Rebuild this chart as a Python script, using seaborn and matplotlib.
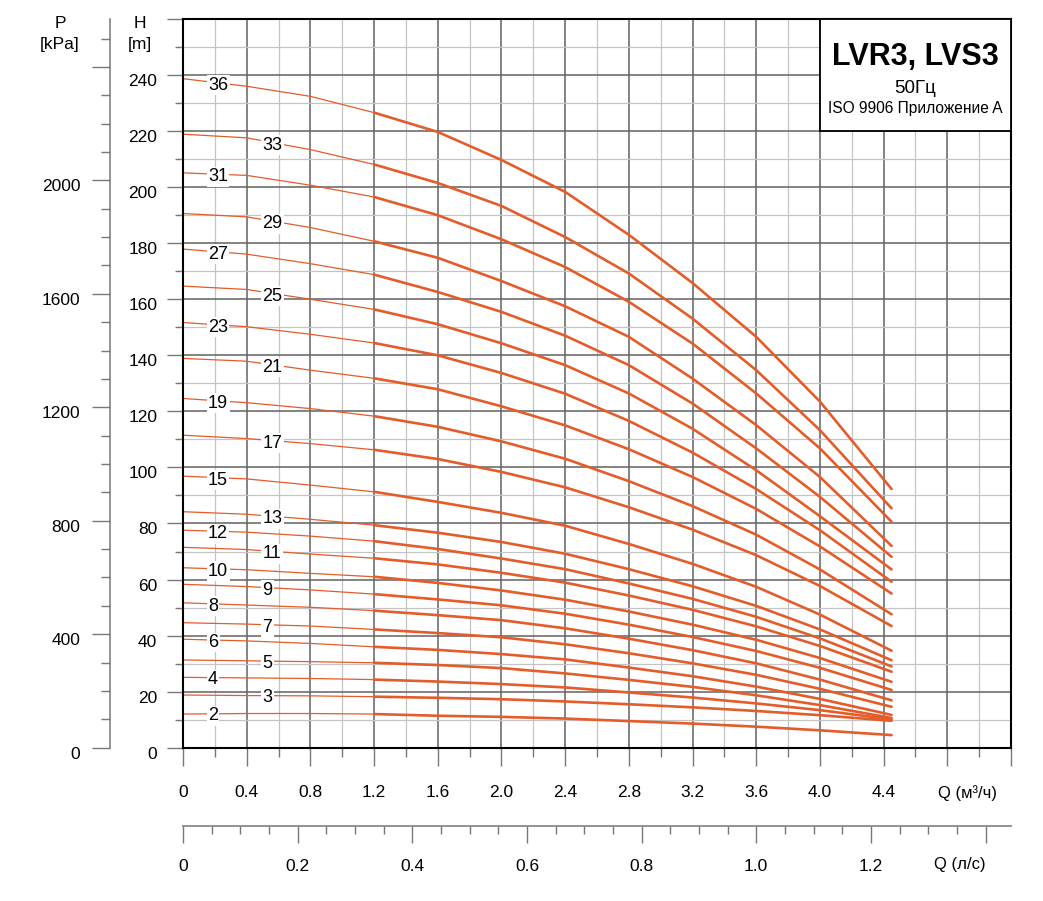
import numpy as np
import pandas as pd
import matplotlib
matplotlib.use("Agg")
import matplotlib.pyplot as plt
import matplotlib.transforms as mtransforms
from matplotlib.patches import Rectangle
from matplotlib.ticker import MultipleLocator, FuncFormatter
import seaborn as sns

# Caudal (m3/h) en los puntos leidos
q = [0, 0.4, 0.8, 1.2, 1.6, 2.0, 2.4, 2.8, 3.2, 3.6, 4.0, 4.45]

# Altura H (m) por numero de etapas
h36 = [238.7, 236.0, 232.4, 226.6, 219.7, 209.7, 198.3, 183.0, 165.8, 146.6, 123.5, 92.3]
h33 = [218.9, 217.6, 213.4, 208.1, 201.5, 193.3, 182.2, 169.2, 153.1, 134.7, 113.3, 85.4]
h31 = [205.1, 204.2, 200.7, 196.5, 190.0, 181.4, 171.5, 159.1, 144.2, 126.4, 106.8, 80.6]
h29 = [190.6, 189.4, 185.6, 180.7, 174.8, 166.5, 157.5, 146.6, 131.7, 115.1, 96.6, 72.0]
h27 = [177.9, 176.1, 172.7, 168.8, 162.6, 155.5, 147.0, 136.5, 122.8, 106.8, 89.5, 68.1]
h25 = [164.7, 163.5, 160.0, 156.4, 151.1, 144.3, 136.5, 126.4, 113.8, 99.0, 82.6, 63.6]
h23 = [151.7, 150.2, 147.5, 144.4, 140.0, 133.7, 126.3, 116.6, 105.3, 92.3, 77.6, 59.2]
h21 = [138.9, 137.9, 134.7, 131.8, 127.9, 121.8, 115.0, 106.5, 96.6, 85.2, 71.8, 55.0]
h19 = [124.6, 123.1, 121.0, 118.3, 114.5, 109.3, 103.1, 95.1, 86.2, 76.0, 63.6, 47.6]
h17 = [111.5, 110.3, 108.5, 106.3, 103.0, 98.4, 92.9, 85.8, 77.8, 68.7, 57.7, 43.4]
h15 = [96.9, 95.9, 93.7, 91.3, 87.7, 83.8, 79.2, 72.7, 65.6, 57.4, 47.5, 34.6]
h13 = [84.2, 83.3, 81.5, 79.4, 76.7, 73.4, 69.2, 63.7, 57.6, 50.6, 42.2, 31.2]
h12 = [77.6, 76.9, 75.5, 73.7, 70.9, 67.5, 63.7, 58.6, 53.1, 46.7, 39.0, 29.0]
h11 = [71.5, 70.7, 69.1, 67.6, 65.4, 62.4, 58.9, 54.3, 49.2, 43.3, 36.3, 27.1]
h10 = [64.2, 63.5, 62.2, 61.0, 58.8, 56.1, 52.8, 48.6, 43.9, 38.5, 32.0, 23.5]
h9 = [58.3, 57.5, 56.3, 54.8, 52.9, 50.8, 47.8, 43.9, 39.5, 34.5, 28.5, 20.6]
h8 = [51.7, 50.9, 50.1, 48.9, 47.3, 45.5, 42.6, 38.9, 34.8, 30.1, 24.3, 16.9]
h7 = [44.6, 44.1, 43.4, 42.2, 40.9, 39.4, 36.9, 33.7, 30.1, 26.0, 21.0, 14.6]
h6 = [38.7, 38.1, 37.2, 36.0, 34.9, 33.4, 31.5, 28.6, 25.5, 21.8, 17.4, 11.7]
h5 = [31.3, 31.0, 30.7, 30.3, 29.5, 28.4, 26.5, 24.2, 21.7, 18.7, 15.2, 10.6]
h4 = [25.1, 24.9, 24.7, 24.3, 23.6, 22.7, 21.5, 19.7, 17.9, 15.8, 13.4, 10.1]
h3 = [18.8, 18.6, 18.5, 18.2, 17.8, 17.3, 16.5, 15.5, 14.4, 13.1, 11.6, 9.6]
h2 = [12.0, 12.2, 12.2, 12.0, 11.4, 11.0, 10.4, 9.5, 8.6, 7.5, 6.2, 4.5]

curvas = {36: h36, 33: h33, 31: h31, 29: h29, 27: h27, 25: h25, 23: h23,
          21: h21, 19: h19, 17: h17, 15: h15, 13: h13, 12: h12, 11: h11,
          10: h10, 9: h9, 8: h8, 7: h7, 6: h6, 5: h5, 4: h4, 3: h3, 2: h2}

# etiquetas en la columna izquierda / derecha
etapas_izq = [36, 31, 27, 23, 19, 15, 12, 10, 8, 6, 4, 2]
etapas_der = [33, 29, 25, 21, 17, 13, 11, 9, 7, 5, 3]

x_labels = ["0", "0.4", "0.8", "1.2", "1.6", "2.0", "2.4", "2.8", "3.2", "3.6", "4.0", "4.4"]
ls_labels = ["0", "0.2", "0.4", "0.6", "0.8", "1.0", "1.2"]
p_labels = ["0", "400", "800", "1200", "1600", "2000"]

titulo = "LVR3, LVS3"
subtitulo1 = "50Гц"
subtitulo2 = "ISO 9906 Приложение A"


def etiqueta(lista, paso):
    # devuelve el texto de la lista segun el valor del tick (vacio fuera de ella)
    def f(v, pos):
        i = int(round(v / paso))
        if abs(v - i * paso) > 1e-6 or i < 0 or i >= len(lista):
            return ""
        return lista[i]
    return FuncFormatter(f)


# ===============================
# Estilo
# ===============================
sns.set_style("white")
plt.rcParams["font.family"] = ["Liberation Sans", "DejaVu Sans"]
plt.rcParams["text.color"] = "black"
plt.rcParams["xtick.labelcolor"] = "black"
plt.rcParams["ytick.labelcolor"] = "black"
color_curva = "#e35c2a"
gris = "#777777"

W, HP = 1043, 901
fig = plt.figure(figsize=(W / 100, HP / 100), dpi=100)
fig.patch.set_facecolor("white")

x0, x1 = 183, 1011
y_top, y_bot = 19, 747.7
ax = fig.add_axes([x0 / W, 1 - y_bot / HP, (x1 - x0) / W, (y_bot - y_top) / HP])
ax.set_xlim(0, 5.2)
ax.set_ylim(0, 260)

# rejilla
ax.xaxis.set_major_locator(MultipleLocator(0.4))
ax.xaxis.set_minor_locator(MultipleLocator(0.2))
ax.yaxis.set_major_locator(MultipleLocator(20))
ax.yaxis.set_minor_locator(MultipleLocator(10))
ax.grid(which="major", color="#626262", lw=1.1, zorder=0)
ax.grid(which="minor", color="#c4c4c4", lw=0.9, zorder=0)
ax.set_axisbelow(True)

ax.xaxis.set_major_formatter(etiqueta(x_labels, 0.4))
ax.yaxis.set_major_formatter(FuncFormatter(lambda v, p: "" if v > 250 else f"{v:.0f}"))

ax.tick_params(which="both", bottom=True, left=True, top=False, right=False)
ax.tick_params(axis="x", which="major", length=13, width=1.0, color=gris,
               direction="out", labelsize=12.5, pad=14, labelcolor="black")
ax.tick_params(axis="x", which="minor", length=6.5, width=1.0, color=gris, direction="out")
ax.tick_params(axis="y", which="major", length=11.5, width=1.0, color=gris,
               direction="out", labelsize=12.5, pad=7, labelcolor="black")
ax.tick_params(axis="y", which="minor", length=5.8, width=1.0, color=gris, direction="out")
for s in ax.spines.values():
    s.set_color("black")
    s.set_linewidth(1.5)

off = mtransforms.ScaledTranslation(0, -5 / 100, fig.dpi_scale_trans)
for lab in ax.get_yticklabels():
    lab.set_transform(lab.get_transform() + off)

# ===============================
# Curvas
# ===============================
filas = []
for n, h in curvas.items():
    for qi, hi in zip(q, h):
        filas.append({"etapas": n, "Q": qi, "H": hi})
df = pd.DataFrame(filas)

tramo_fino = df[df["Q"] <= 1.2]
tramo_grueso = df[df["Q"] >= 1.2]
pal = [color_curva] * len(curvas)

sns.lineplot(data=tramo_fino, x="Q", y="H", hue="etapas", units="etapas",
             estimator=None, palette=pal, lw=0.9, legend=False, ax=ax, zorder=2)
sns.lineplot(data=tramo_grueso, x="Q", y="H", hue="etapas", units="etapas",
             estimator=None, palette=pal, lw=1.9, legend=False, ax=ax, zorder=2)
ax.set_xlabel("")
ax.set_ylabel("")

# etiquetas de etapas
for n in etapas_izq + etapas_der:
    qx = 0.157 if n in etapas_izq else 0.50
    yc = np.interp(qx + 0.08, q, curvas[n]) - 0.8
    ax.text(qx, yc, str(n), ha="left", va="center", fontsize=13, zorder=4,
            bbox=dict(boxstyle="square,pad=0.08", fc="white", ec="none"))

# recuadro del titulo
ax.add_patch(Rectangle((4.0, 220), 1.2, 40, facecolor="white", edgecolor="black",
                       lw=1.3, zorder=3, clip_on=False))
ax.text(4.6, 246.3, titulo, ha="center", va="center", fontsize=22,
        fontweight="bold", zorder=4)
ax.text(4.6, 235.3, subtitulo1, ha="center", va="center", fontsize=13.5, zorder=4)
ax.text(4.6, 228.1, subtitulo2, ha="center", va="center", fontsize=11.2, zorder=4)

# ===============================
# Eje de presion (kPa)
# ===============================
pax = fig.add_axes([110 / W, 1 - y_bot / HP, 0.0001, (y_bot - y_top) / HP])
pax.set_ylim(0, 260 * 9.88)
pax.patch.set_visible(False)
for k in ["right", "top", "bottom"]:
    pax.spines[k].set_visible(False)
pax.spines["left"].set_color(gris)
pax.spines["left"].set_linewidth(1.1)
pax.set_xticks([])
pax.yaxis.set_major_locator(MultipleLocator(400))
pax.yaxis.set_minor_locator(MultipleLocator(100))
pax.yaxis.set_major_formatter(etiqueta(p_labels, 400))
pax.tick_params(which="both", left=True, bottom=False)
pax.tick_params(axis="y", which="major", length=13, width=1.0, color=gris,
                labelsize=12.5, pad=8.5, labelcolor="black")
pax.tick_params(axis="y", which="minor", length=6.5, width=1.0, color=gris)
for lab in pax.get_yticklabels():
    lab.set_transform(lab.get_transform() + off)

# ===============================
# Eje secundario de caudal (l/s)
# ===============================
y_ls = 826
qax = fig.add_axes([x0 / W, 1 - y_ls / HP, (x1 - x0) / W, 0.0001])
qax.set_xlim(0, 5.2 / 3.6)
qax.patch.set_visible(False)
for k in ["left", "right", "top"]:
    qax.spines[k].set_visible(False)
qax.spines["bottom"].set_color("#8a8a8a")
qax.spines["bottom"].set_linewidth(1.3)
qax.set_yticks([])
qax.xaxis.set_major_locator(MultipleLocator(0.2))
qax.xaxis.set_minor_locator(MultipleLocator(0.05))
qax.xaxis.set_major_formatter(etiqueta(ls_labels, 0.2))
qax.tick_params(which="both", bottom=True, left=False)
qax.tick_params(axis="x", which="major", length=12, width=1.0, color=gris,
                labelsize=12.5, pad=12, labelcolor="black")
qax.tick_params(axis="x", which="minor", length=6, width=1.0, color=gris)

# ===============================
# Textos de ejes
# ===============================
fig.text(60 / W, 1 - 23 / HP, "P", ha="center", va="center", fontsize=12.5)
fig.text(60 / W, 1 - 45 / HP, "[kPa]", ha="center", va="center", fontsize=12.5)
fig.text(140 / W, 1 - 23 / HP, "H", ha="center", va="center", fontsize=12.5)
fig.text(140 / W, 1 - 45 / HP, "[m]", ha="center", va="center", fontsize=12.5)
fig.text(967 / W, 1 - 793 / HP, "Q (м³/ч)", ha="center", va="center", fontsize=12)
fig.text(960 / W, 1 - 865 / HP, "Q (л/с)", ha="center", va="center", fontsize=12)

fig.savefig("out.png", dpi=100, facecolor="white")
